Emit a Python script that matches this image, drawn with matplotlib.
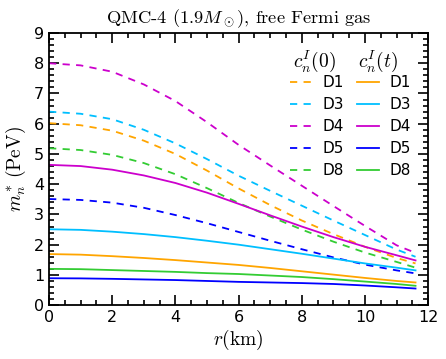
import numpy as np
import matplotlib.pyplot as plt
from matplotlib.ticker import MultipleLocator

plt.rcParams['mathtext.fontset'] = 'cm'

# rayon (km)
r = [0, 1, 2, 3, 4, 5, 6, 7, 8, 9, 10, 11, 11.6]

# c_n^I(0) : tirets
d1_0 = [6.02, 5.95, 5.77, 5.44, 5.00, 4.45, 3.86, 3.31, 2.80, 2.35, 1.93, 1.56, 1.38]
d3_0 = [6.40, 6.33, 6.15, 5.80, 5.35, 4.83, 4.28, 3.78, 3.29, 2.80, 2.32, 1.84, 1.60]
d4_0 = [8.00, 7.93, 7.72, 7.30, 6.75, 6.05, 5.30, 4.62, 3.95, 3.28, 2.62, 1.98, 1.73]
d5_0 = [3.51, 3.48, 3.39, 3.22, 2.98, 2.71, 2.42, 2.13, 1.85, 1.58, 1.34, 1.15, 1.05]
d8_0 = [5.19, 5.13, 4.97, 4.70, 4.33, 3.87, 3.38, 2.93, 2.50, 2.10, 1.74, 1.43, 1.24]

# c_n^I(t) : traits pleins
d1_t = [1.69, 1.67, 1.62, 1.56, 1.49, 1.41, 1.33, 1.23, 1.12, 1.01, 0.90, 0.80, 0.75]
d3_t = [2.51, 2.49, 2.43, 2.35, 2.25, 2.13, 2.00, 1.85, 1.70, 1.54, 1.38, 1.24, 1.15]
d4_t = [4.64, 4.60, 4.48, 4.29, 4.04, 3.72, 3.35, 2.97, 2.60, 2.25, 1.93, 1.65, 1.48]
d5_t = [0.89, 0.885, 0.87, 0.85, 0.83, 0.80, 0.77, 0.75, 0.73, 0.70, 0.65, 0.59, 0.55]
d8_t = [1.20, 1.19, 1.16, 1.13, 1.10, 1.06, 1.03, 0.98, 0.93, 0.86, 0.78, 0.70, 0.64]

noms = ['D1', 'D3', 'D4', 'D5', 'D8']
couleurs = ['#FFA500', '#00BFFF', '#CC00CC', '#0000FF', '#33CC33']
series_0 = [d1_0, d3_0, d4_0, d5_0, d8_0]
series_t = [d1_t, d3_t, d4_t, d5_t, d8_t]

fig = plt.figure(figsize=(4.46, 3.59), dpi=100)
ax = fig.add_axes([0.110, 0.150, 0.850, 0.758])

poignees = []
for nom, c, y in zip(noms, couleurs, series_0):
    l, = ax.plot(r, y, color=c, lw=1.3, linestyle=(0, (4, 3.5)), label=nom)
    poignees.append(l)
for nom, c, y in zip(noms, couleurs, series_t):
    l, = ax.plot(r, y, color=c, lw=1.3, linestyle='-', label=nom)
    poignees.append(l)

ax.set_xlim(0, 12)
ax.set_ylim(0, 9)
ax.xaxis.set_major_locator(MultipleLocator(2))
ax.xaxis.set_minor_locator(MultipleLocator(0.5))
ax.yaxis.set_major_locator(MultipleLocator(1))
ax.yaxis.set_minor_locator(MultipleLocator(0.2))
ax.tick_params(which='both', direction='in', top=True, right=True, labelsize=11.5, width=1.2)
ax.tick_params(which='major', length=7)
ax.tick_params(which='minor', length=3.5)
for s in ax.spines.values():
    s.set_linewidth(1.3)

ax.set_xlabel(r'$r(\mathrm{km})$', fontsize=14, labelpad=2)
ax.set_ylabel(r'$m_n^*\,(\mathrm{PeV})$', fontsize=14, labelpad=4)
ax.set_title(r'QMC-4 $(1.9M_\odot)$, free Fermi gas', fontsize=13.3, family='cmr10', pad=7)

leg = ax.legend(handles=poignees, ncol=2, frameon=False, fontsize=11,
                loc='upper left', bbox_to_anchor=(0.636, 0.845),
                borderaxespad=0, borderpad=0,
                handlelength=1.44, handletextpad=0.65, columnspacing=0.9,
                labelspacing=0.46)
ax.text(0.644, 0.897, r'$c_n^I(0)$', transform=ax.transAxes, fontsize=14, va='center')
ax.text(0.814, 0.897, r'$c_n^I(t)$', transform=ax.transAxes, fontsize=14, va='center')

plt.savefig('out.png', dpi=100)
